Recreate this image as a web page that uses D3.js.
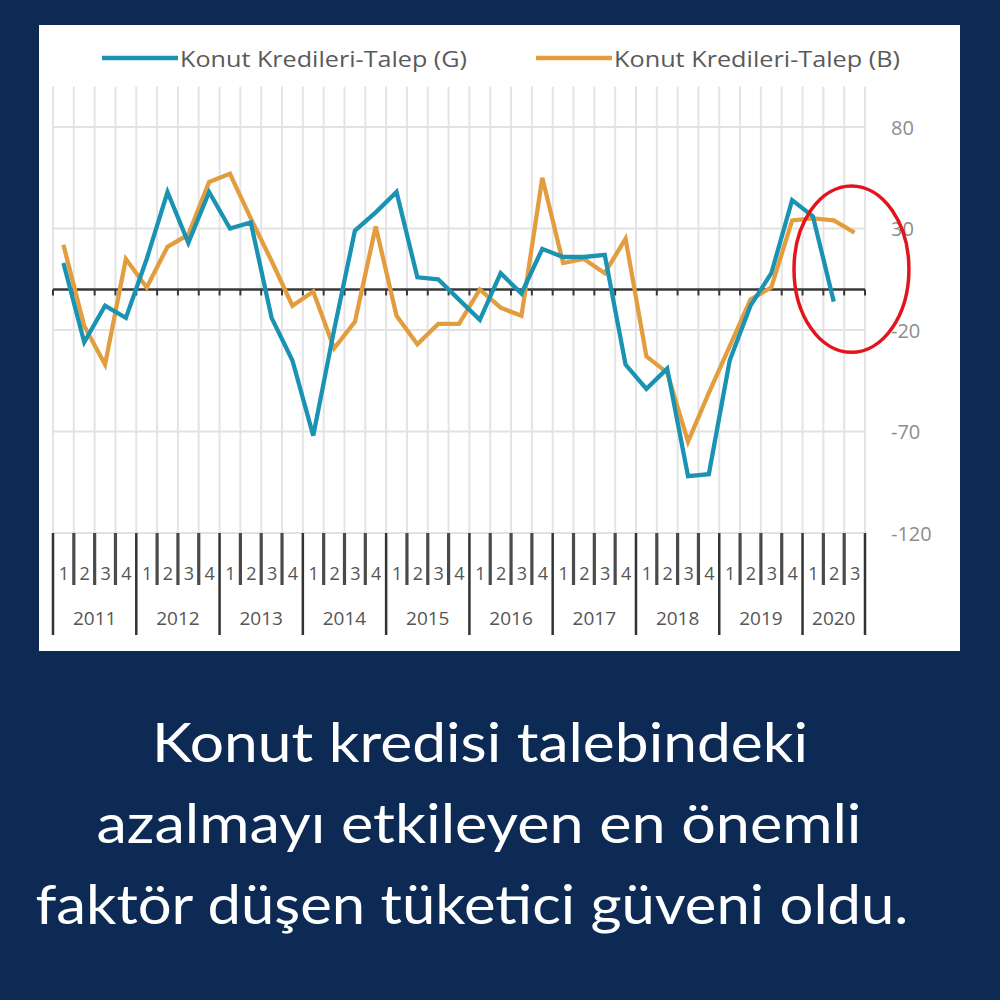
<!DOCTYPE html>
<html><head><meta charset="utf-8">
<script src="https://cdn.jsdelivr.net/npm/d3@7"></script>
<style>html,body{margin:0;padding:0;background:#0c2a54;} svg{display:block}</style>
</head><body><svg id="c" width="1000" height="1000"></svg>
<script>
const categories = [
 "2011-1","2011-2","2011-3","2011-4","2012-1","2012-2","2012-3","2012-4",
 "2013-1","2013-2","2013-3","2013-4","2014-1","2014-2","2014-3","2014-4",
 "2015-1","2015-2","2015-3","2015-4","2016-1","2016-2","2016-3","2016-4",
 "2017-1","2017-2","2017-3","2017-4","2018-1","2018-2","2018-3","2018-4",
 "2019-1","2019-2","2019-3","2019-4","2020-1","2020-2","2020-3"];
const years = ["2011","2012","2013","2014","2015","2016","2017","2018","2019","2020"];
const seriesG = [13,-26,-8,-14, 15,48,23,48, 30,33,-14,-35, -72,-20,29,38,
  48,6,5,-5, -15,8,-2,20, 16,16,17,-37, -49,-39,-92,-91, -35,-8,8,44, 36,-6];
const seriesB = [22,-18,-37,15, 1,21,27,53, 57,35,14,-8, -1,-29,-16,31,
  -13,-27,-17,-17, 0,-9,-13,55, 13,15,8,25, -33,-41,-75,-51, -28,-5,1,34, 35,34,28];
const yTicks = [80,30,-20,-70,-120];
const legendLabels = ["Konut Kredileri-Talep (G)","Konut Kredileri-Talep (B)"];
const captionLines = ["Konut kredisi talebindeki","azalmayı etkileyen en önemli","faktör düşen tüketici güveni oldu."];

const colG = "#1a93b3", colB = "#e29d3e";
const svg = d3.select("#c");
svg.append("rect").attr("width",1000).attr("height",1000).attr("fill","#0c2a54");
svg.append("rect").attr("x",39).attr("y",25).attr("width",921).attr("height",626).attr("fill","#ffffff");

const x = d3.scaleBand().domain(categories).range([53,865]).padding(0);
const y = d3.scaleLinear().domain([-120,100]).range([533,86.5]);
const bw = x.bandwidth();
const bounds = categories.map(c=>x(c)).concat([x.range()[1]]);

// vertical grid
svg.append("g").selectAll("line").data(bounds).join("line")
  .attr("x1",d=>d).attr("x2",d=>d).attr("y1",y(100)).attr("y2",y(-120))
  .attr("stroke","#e4e4e4").attr("stroke-width",2);
// horizontal grid
svg.append("g").selectAll("line").data(yTicks).join("line")
  .attr("x1",53).attr("x2",865).attr("y1",d=>y(d)).attr("y2",d=>y(d))
  .attr("stroke","#e2e2e2").attr("stroke-width",2);
// y labels
svg.append("g").selectAll("text").data(yTicks).join("text")
  .attr("x",891).attr("y",d=>y(d)).attr("dominant-baseline","central")
  .attr("font-family","Open Sans").attr("font-size",20).attr("fill","#8c8c8c")
  .text(d=>d);

// zero line + ticks
svg.append("line").attr("x1",53).attr("x2",865).attr("y1",y(0)).attr("y2",y(0))
  .attr("stroke","#383838").attr("stroke-width",2.5);
svg.append("g").selectAll("line").data(bounds).join("line")
  .attr("x1",d=>d).attr("x2",d=>d).attr("y1",y(0)).attr("y2",y(0)+6)
  .attr("stroke","#383838").attr("stroke-width",2);

// lines
const line = d3.line().x((d,i)=>x(categories[i])+bw/2).y(d=>y(d));
svg.append("path").datum(seriesB).attr("d",line).attr("fill","none")
  .attr("stroke",colB).attr("stroke-width",4.3).attr("stroke-linejoin","miter");
svg.append("path").datum(seriesG).attr("d",line).attr("fill","none")
  .attr("stroke",colG).attr("stroke-width",4.3).attr("stroke-linejoin","miter");

// category axis
const axisTop = y(-120);
categories.forEach((c,i)=>{
  const q = c.split("-")[1];
  if(q!=="1"){
    svg.append("line").attr("x1",x(c)).attr("x2",x(c)).attr("y1",axisTop).attr("y2",585)
      .attr("stroke","#4a4a4a").attr("stroke-width",3.2);
  }
  svg.append("text").attr("x",x(c)+bw/2+0.5).attr("y",573).attr("text-anchor","middle")
    .attr("dominant-baseline","central").attr("font-family","Open Sans").attr("font-size",18)
    .attr("fill","#555").text(q);
});
years.forEach(yr=>{
  const cs = categories.filter(c=>c.startsWith(yr));
  const x0 = x(cs[0]), x1 = x(cs[cs.length-1])+bw;
  [x0].concat(yr===years[years.length-1]?[x1]:[]).forEach(xx=>{
    svg.append("line").attr("x1",xx).attr("x2",xx).attr("y1",axisTop).attr("y2",635)
      .attr("stroke","#333").attr("stroke-width",2.5);
  });
  svg.append("text").attr("x",(x0+x1)/2).attr("y",618).attr("text-anchor","middle")
    .attr("dominant-baseline","central").attr("font-family","Open Sans").attr("font-size",19)
    .attr("fill","#555").text(yr);
});

// legend
const legX = [[102,178,180,287],[536,612,614,286]];
[colG,colB].forEach((col,i)=>{
  const [l0,l1,tx,tl] = legX[i];
  svg.append("line").attr("x1",l0).attr("x2",l1).attr("y1",58).attr("y2",58)
    .attr("stroke",col).attr("stroke-width",4.5);
  svg.append("text").attr("x",tx).attr("y",58).attr("dominant-baseline","central")
    .attr("font-family","Open Sans").attr("font-size",22).attr("fill","#5a5a5a")
    .attr("textLength",tl).attr("lengthAdjust","spacingAndGlyphs").text(legendLabels[i]);
});

// annotation ellipse
const last = categories[categories.length-1];
svg.append("ellipse").attr("cx",x(last)+bw*0.35).attr("cy",y(10))
  .attr("rx",bw*2.76).attr("ry",y(-31)-y(10))
  .attr("fill","none").attr("stroke","#e3141b").attr("stroke-width",3.5);

// caption
const capY = [762,843,924], capW = [656,765,873], capX = [480,479,472];
captionLines.forEach((t,i)=>{
  svg.append("text").attr("x",capX[i]).attr("y",capY[i]).attr("text-anchor","middle")
    .attr("font-family","Lato").attr("font-size",54).attr("fill","#ffffff")
    .attr("textLength",capW[i]).attr("lengthAdjust","spacingAndGlyphs").text(t);
});
</script></body></html>
